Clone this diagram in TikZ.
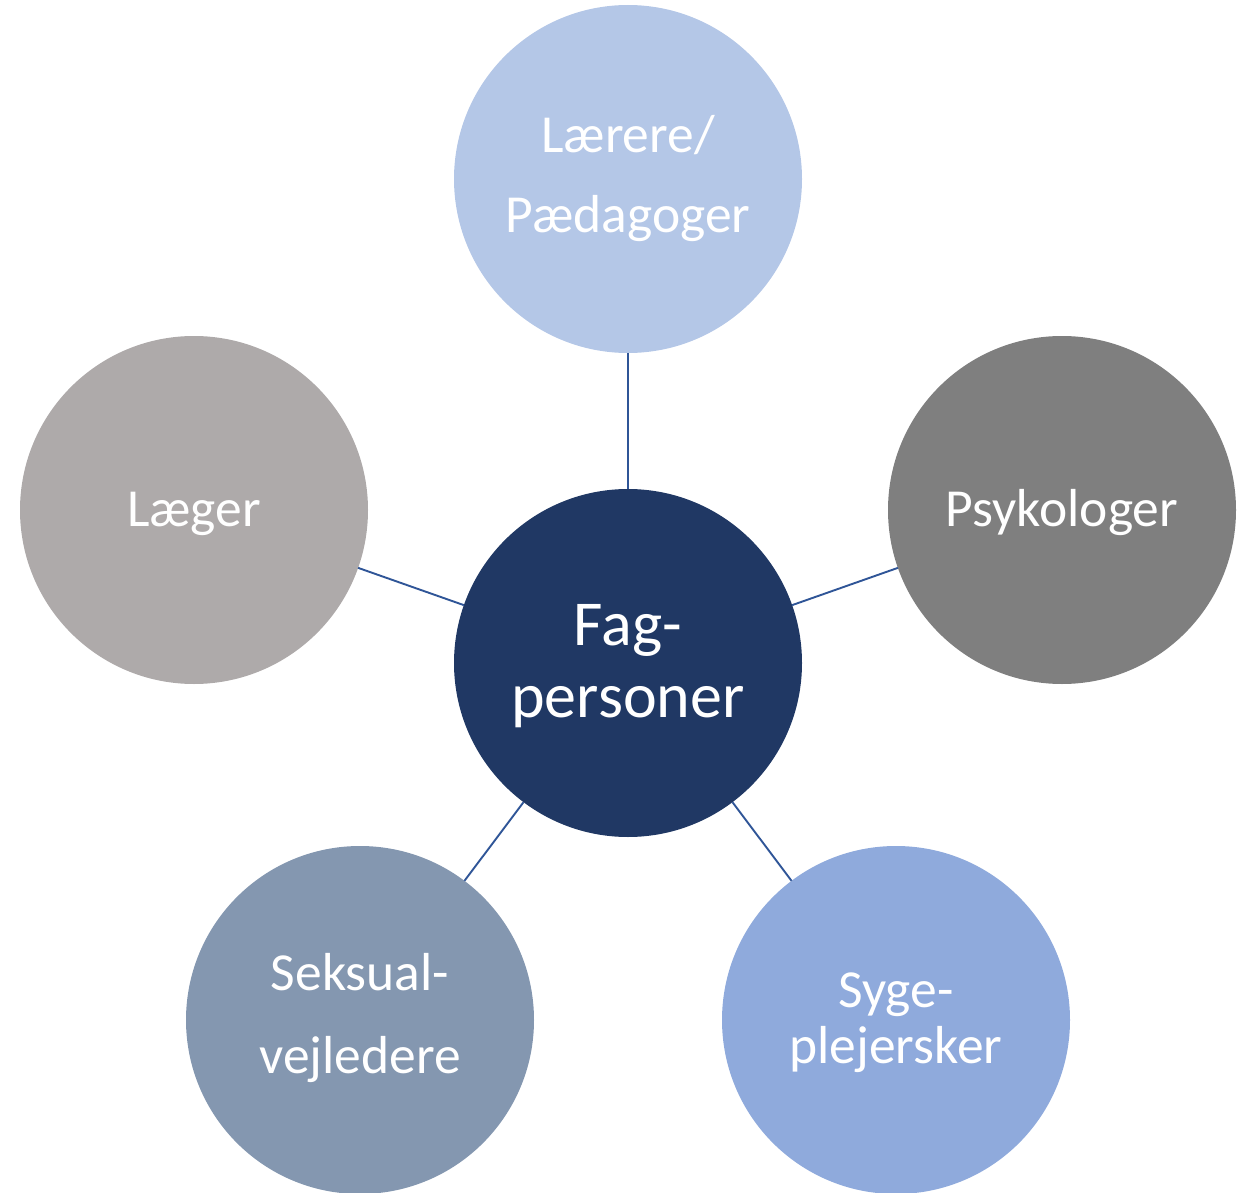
\documentclass[tikz,border=0pt]{standalone}
\usepackage{fontspec}
\setmainfont{Carlito}
\definecolor{hubblue}{HTML}{203864}
\definecolor{topblue}{HTML}{B4C7E7}
\definecolor{lightgray}{HTML}{AEAAAA}
\definecolor{darkgray}{HTML}{7F7F7F}
\definecolor{slateblue}{HTML}{8497B0}
\definecolor{midblue}{HTML}{8FAADC}
\definecolor{linkblue}{HTML}{2F5597}
\begin{document}
\begin{tikzpicture}[x=1pt,y=-1pt,
  disc/.style={circle,draw=none,minimum size=348pt,inner sep=0pt,outer sep=0pt},
  lbl/.style={anchor=base,text=white,inner sep=0pt,font=\fontsize{53.5}{60}\selectfont},
  biglbl/.style={anchor=base,text=white,inner sep=0pt,font=\fontsize{64}{72}\selectfont},
  link/.style={draw=linkblue,line width=1.9pt}]
\useasboundingbox (0,0) rectangle (1240,1193);

% circles
\node[disc,fill=hubblue]   (hub) at (628,663) {};
\node[disc,fill=topblue]   (top) at (628,179) {};
\node[disc,fill=lightgray] (lft) at (194,510) {};
\node[disc,fill=darkgray]  (rgt) at (1062,510) {};
\node[disc,fill=slateblue] (bl)  at (360,1020) {};
\node[disc,fill=midblue]   (br)  at (896,1020) {};

% spokes
\draw[link] (hub) -- (top);
\draw[link] (hub) -- (lft);
\draw[link] (hub) -- (rgt);
\draw[link] (hub) -- (bl);
\draw[link] (hub) -- (br);

% labels
\node[biglbl] (hubA) at (628,645) {Fag-};
\node[biglbl] (hubB) at (628,717) {personer};
\node[lbl] (topA) at (628,153) {Lærere/};
\node[lbl] (topB) at (628,233) {Pædagoger};
\node[lbl] (lftA) at (194,526) {Læger};
\node[lbl] (rgtA) at (1062,526) {Psykologer};
\node[lbl] (blA) at (360,990) {Seksual-};
\node[lbl] (blB) at (360,1073) {vejledere};
\node[lbl] (brA) at (896,1007) {Syge-};
\node[lbl] (brB) at (896,1063) {plejersker};
\end{tikzpicture}
\end{document}
